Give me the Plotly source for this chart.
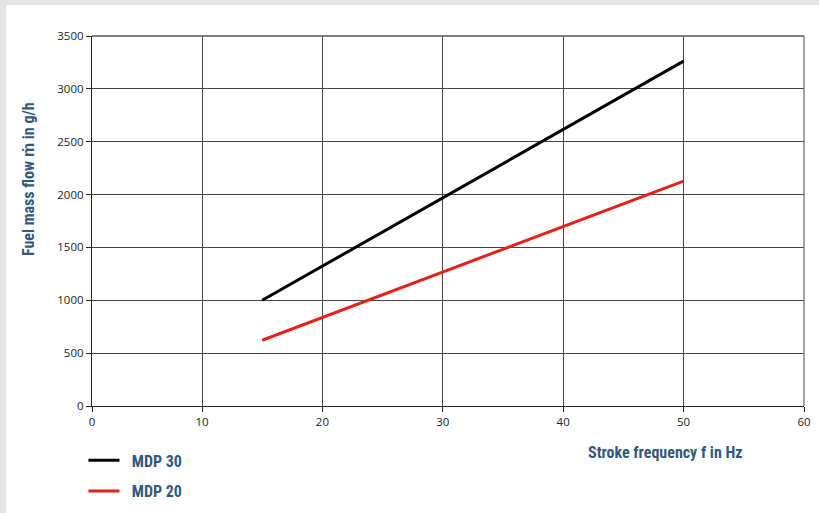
import plotly.graph_objects as go

freq = [15, 50]
mdp30 = [1000, 3262]
mdp20 = [622, 2128]
series_names = ["MDP 30", "MDP 20"]
series_colors = ["#000000", "#e3231b"]
# the reference x axis is linear from 10 to 60; its "0" label sits at the left edge
x_start = 0.864
x_ticks = [x_start, 10, 20, 30, 40, 50, 60]
x_ticktext = ["0", "10", "20", "30", "40", "50", "60"]
y_ticks = [0, 500, 1000, 1500, 2000, 2500, 3000, 3500]

title_font = dict(family="Liberation Sans Narrow, Roboto Condensed, Arial Narrow, sans-serif",
                  size=16, color="#34587a")

fig = go.Figure()
for name, ys, col in zip(series_names, [mdp30, mdp20], series_colors):
    fig.add_trace(go.Scatter(x=freq, y=ys, mode="lines",
                             name="\u00a0\u00a0<b>" + name + "</b>",
                             line=dict(color=col, width=3), legendgroup=name))

axis_common = dict(showgrid=True, gridcolor="#444444", gridwidth=1,
                   showline=True, linecolor="#222222", linewidth=1.2,
                   ticks="outside", ticklen=5, tickcolor="#222222",
                   tickfont=dict(family="Open Sans, sans-serif", size=11.5, color="#222222"),
                   zeroline=False, mirror=False, automargin=False)

fig.update_xaxes(range=[x_start, 60], tickvals=x_ticks, ticktext=x_ticktext, **axis_common)
fig.update_yaxes(range=[0, 3500], tickvals=y_ticks, **axis_common)

fig.update_layout(
    width=819, height=513, autosize=False,
    margin=dict(l=92, r=15, t=36, b=107, autoexpand=False),
    paper_bgcolor="white", plot_bgcolor="white",
    showlegend=True,
    legend=dict(x=-0.012, y=-0.101, xanchor="left", yanchor="top",
                font=title_font, itemwidth=31, tracegroupgap=7,
                bgcolor="rgba(0,0,0,0)"),
    shapes=[
        dict(type="rect", xref="paper", yref="paper", x0=-92/712, x1=1+15/712,
             y0=1+31/370, y1=1+36/370, fillcolor="#e5e5e5", line_width=0, layer="below"),
        dict(type="rect", xref="paper", yref="paper", x0=-92/712, x1=-86/712,
             y0=-107/370, y1=1+36/370, fillcolor="#e5e5e5", line_width=0, layer="below"),
        dict(type="line", xref="paper", yref="paper", x0=1, x1=1, y0=0, y1=1,
             line=dict(color="#666666", width=1.2)),
        dict(type="line", xref="paper", yref="paper", x0=0, x1=1, y0=1, y1=1,
             line=dict(color="#555555", width=1.5)),
    ],
    annotations=[
        dict(text="<b>Fuel mass flow ṁ in g/h</b>", xref="paper", yref="paper",
             x=-64/712, y=(406-179)/370, textangle=-90, showarrow=False,
             font=title_font, xanchor="center", yanchor="middle"),
        dict(text="<b>Stroke frequency f in Hz</b>", xref="paper", yref="paper",
             x=(665-92)/712, y=-(452-406)/370, showarrow=False,
             font=title_font, xanchor="center", yanchor="middle"),
    ],
)

fig.write_html(
    "out.html",
    config={"displayModeBar": False, "responsive": False},
    post_script="document.body.style.margin='0';document.body.style.overflow='hidden';"
                "document.documentElement.style.overflow='hidden';",
)
